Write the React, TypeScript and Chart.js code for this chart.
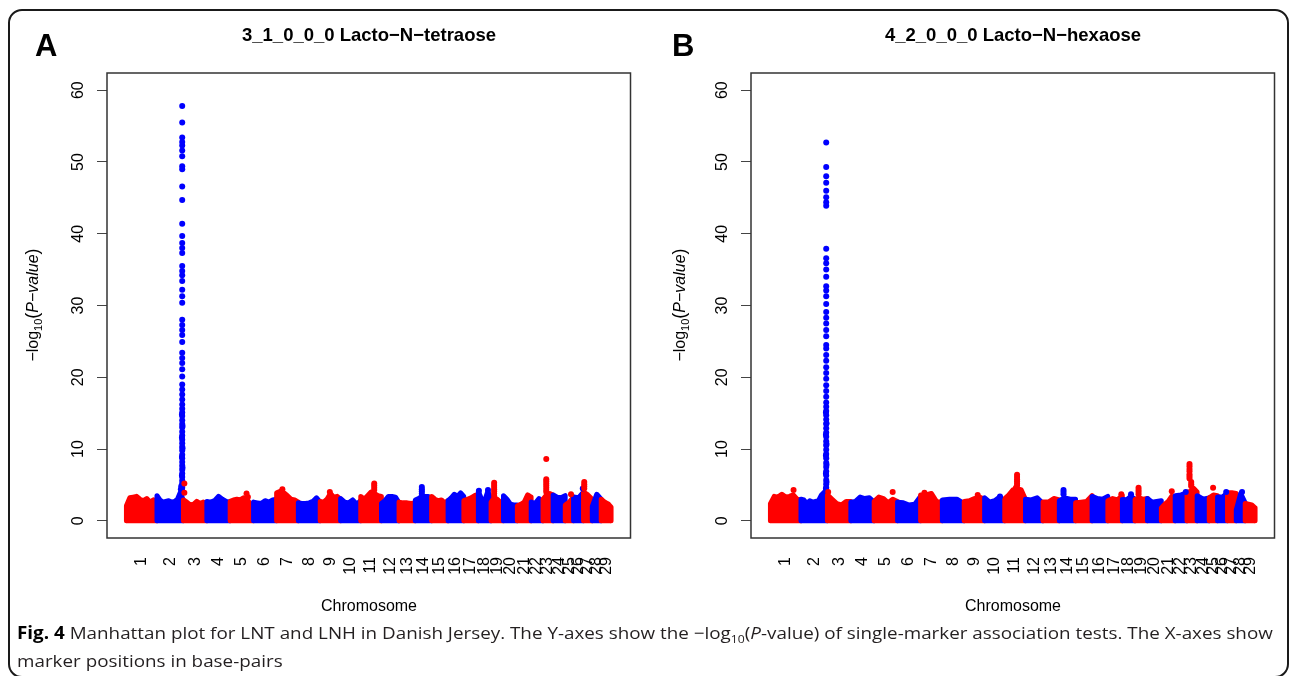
import React, { useEffect, useRef, useLayoutEffect } from 'react';
import { Chart, registerables } from 'chart.js';
Chart.register(...registerables);

// ---------------- data ----------------
const CHROMS = ['1','2','3','4','5','6','7','8','9','10','11','12','13','14','15','16','17','18','19','20','21','22','23','24','25','26','27','28','29'];
// chromosome lengths (Mb), bovine genome
const CHROM_LEN_MB = [158.3,137.1,121.4,120.8,121.2,119.5,112.6,113.4,105.7,104.3,107.3,91.2,84.2,84.6,85.3,81.7,75.2,66.0,64.1,72.0,71.6,61.4,52.5,62.7,42.9,51.7,45.4,46.3,51.5];
const Y_TICKS = [0,10,20,30,40,50,60];
const Y_LIMITS = [0, 60];

// envelope of the dense marker cloud per chromosome (-log10 P), read left to right
const PROFILE_A: number[][] = [
  [2.1,3.2,3.3,3.4,3.0,2.8,3.1,2.6,2.9,2.3],
  [3.5,2.9,2.6,2.7,2.8,2.6,2.7,3.0,4.0,2.8],
  [2.9,2.6,2.2,2.3,2.7,2.4,2.6,2.5],
  [2.7,2.6,2.8,3.4,3.0,2.7,2.6],
  [2.7,2.9,3.0,2.9,3.2,3.0,2.4,1.9],
  [2.6,2.5,2.4,2.8,2.6,2.9,3.0],
  [3.9,4.1,3.9,3.5,3.0,2.9,2.6],
  [2.5,2.4,2.4,2.5,2.7,3.2,2.6],
  [2.7,2.6,3.0,3.8,3.3,3.4,3.0],
  [3.1,2.6,2.5,2.9,2.3,2.8],
  [3.4,3.0,3.5,4.0,3.8,3.5,3.4],
  [2.4,2.8,3.4,3.4,3.3,2.5],
  [2.6,2.5,2.5,2.4,2.5],
  [2.9,3.1,3.4,3.4,3.4,3.0],
  [3.4,3.0,2.8,2.9,2.5,2.8],
  [2.8,3.2,3.7,3.4,3.9,3.4],
  [2.8,3.0,3.2,3.5,3.7],
  [4.1,3.0,2.8,4.1,3.0],
  [2.6,3.2,3.0,2.6,2.5],
  [3.5,3.0,2.3,2.2,2.2],
  [2.1,2.3,2.6,3.6,3.3],
  [2.6,2.4,3.1,2.6],
  [3.0,3.6,3.8,3.6],
  [3.6,3.3,3.2,3.5],
  [2.2,2.6,3.3],
  [3.3,3.2,4.0],
  [4.0,3.6,3.0],
  [2.0,3.7,3.0],
  [3.0,2.7,2.5,2.3,1.9],
];

// individual markers standing out: [chromosome, position (Mb), -log10 P]
const PEAKS_A: [number, number, number][] = [
  [2,131,57.8],[2,131,55.5],[2,131,53.4],[2,131,52.8],[2,131,52.3],[2,131,51.6],[2,131,50.8],[2,131,49.4],[2,131,49.0],
  [2,131,46.6],[2,131,44.7],[2,131,41.4],[2,131,39.7],[2,131,38.7],[2,131,38.0],[2,131,37.3],[2,131,35.5],[2,131,34.8],
  [2,131,34.2],[2,131,33.4],[2,131,32.2],[2,131,31.3],[2,131,30.4],[2,131,28.0],[2,131,27.3],[2,131,26.6],[2,131,25.9],
  [2,131,24.9],[2,131,23.4],[2,131,22.7],[2,131,22.0],[2,131,21.1],[2,131,20.1],[2,131,19.0],[2,131,18.3],[2,131,17.6],
  [2,131,16.9],[2,131,16.2],[2,131,15.6],[2,131,15.1],[2,131,14.6],[2,131,14.0],[2,131,13.5],[2,131,13.0],[2,131,12.4],
  [2,131,11.9],[2,131,11.3],[2,131,10.8],[2,131,10.3],[2,131,9.8],[2,131,9.2],[2,131,8.7],[2,131,8.2],[2,131,7.7],
  [2,131,7.1],[2,131,6.6],[2,131,6.1],[2,131,5.6],[2,131,5.1],[2,131,4.6],[2,131,4.1],
  [2,129.5,14.8],[2,132.5,13.2],[2,129.5,11.6],[2,132.5,10.1],[2,129.5,8.9],[2,132.5,7.4],[2,129.5,6.3],[2,132.5,5.3],[2,129.5,4.4],
  [2,126,4.8],[2,124,4.4],
  [3,5,5.2],[3,5,3.9],
  [5,85,3.8],[5,92,3.3],
  [7,30,4.4],
  [9,50,4.0],
  [11,70,5.2],[11,70,4.9],[11,70,4.6],[11,70,4.3],
  [14,34,4.7],[14,34,4.4],[14,34,4.1],[14,34,3.8],
  [18,3,4.2],[18,50,4.3],
  [19,16,5.3],[19,16,5.0],[19,16,4.7],[19,16,4.4],[19,16,4.1],[19,16,3.8],[19,16,3.5],
  [23,17,8.6],[23,17,5.8],[23,17,5.5],[23,17,5.2],[23,17,4.9],[23,17,4.6],[23,17,4.3],[23,17,4.0],
  [25,30,3.7],
  [26,48,4.5],
  [27,4,5.4],[27,4,5.1],[27,4,4.8],[27,4,4.5],
];

const PROFILE_B: number[][] = [
  [2.4,3.4,3.3,3.7,3.3,3.4,3.6,3.0,2.9],
  [3.0,2.9,2.4,2.8,2.6,2.7,2.8,3.6,4.0,3.0],
  [3.6,3.0,2.4,2.2,2.7,2.7],
  [2.6,2.7,3.3,3.1,3.2,2.6],
  [2.7,3.3,3.1,2.5,3.0,2.7],
  [2.6,2.5,2.2,2.3,3.4],
  [3.6,3.6,3.8,2.6,2.7],
  [2.9,3.0,3.0,2.4],
  [2.7,2.8,3.1,3.3,3.0],
  [3.2,2.6,2.8,3.3,2.7],
  [3.1,3.6,4.3,4.5,4.3,3.0],
  [3.0,2.9,3.2,2.4],
  [2.6,2.6,3.1,2.9],
  [2.8,3.2,3.0,3.0],
  [2.5,2.6,2.7,3.5],
  [3.4,3.1,3.0,3.4],
  [2.8,3.1,2.9,3.5],
  [3.0,2.9,3.4,3.0],
  [3.0,3.2,3.0,3.1],
  [3.1,2.6,2.7,2.8],
  [1.8,2.3,2.7,3.4,3.3],
  [3.5,3.6,3.9],
  [4.0,4.1,4.5,4.0],
  [3.5,3.0,3.2],
  [3.2,3.6,3.5],
  [3.3,3.3,3.9],
  [3.9,3.9,3.8],
  [1.5,3.8,2.5],
  [2.4,2.3,2.2,1.8],
];

const PEAKS_B: [number, number, number][] = [
  [2,131,52.7],[2,131,49.3],[2,131,48.0],[2,131,47.1],[2,131,46.0],[2,131,45.1],[2,131,44.4],[2,131,43.9],
  [2,131,37.9],[2,131,36.6],[2,131,35.9],[2,131,35.0],[2,131,34.0],[2,131,32.7],[2,131,32.1],[2,131,31.3],
  [2,131,30.2],[2,131,29.1],[2,131,28.3],[2,131,27.5],[2,131,26.6],[2,131,25.7],[2,131,24.5],[2,131,24.0],
  [2,131,23.1],[2,131,22.3],[2,131,21.4],[2,131,20.6],[2,131,19.8],[2,131,18.9],[2,131,18.1],[2,131,17.3],
  [2,131,16.5],[2,131,15.9],[2,131,15.3],[2,131,14.7],[2,131,14.1],[2,131,13.5],[2,131,12.9],[2,131,12.3],
  [2,131,11.7],[2,131,11.1],[2,131,10.5],[2,131,9.9],[2,131,9.3],[2,131,8.7],[2,131,8.1],[2,131,7.5],
  [2,131,6.9],[2,131,6.3],[2,131,5.7],[2,131,5.1],[2,131,4.6],[2,131,4.2],
  [2,129.5,15.1],[2,132.5,13.6],[2,129.5,12.0],[2,132.5,10.7],[2,129.5,9.1],[2,132.5,7.8],[2,129.5,6.6],[2,132.5,5.4],[2,129.5,4.5],
  [1,120,4.3],
  [3,4,4.0],
  [5,96,4.0],
  [7,20,3.9],
  [9,70,3.6],
  [10,80,3.4],
  [11,64,6.4],[11,64,6.1],[11,64,5.8],[11,64,5.5],[11,64,5.2],[11,64,4.9],[11,58,4.6],
  [14,22,4.3],[14,22,4.0],[14,22,3.7],
  [17,70,3.7],
  [18,45,3.7],
  [19,18,4.6],[19,18,4.3],[19,18,4.0],[19,18,3.7],
  [21,54,4.1],
  [22,55,4.0],
  [23,13,7.9],[23,13,7.6],[23,13,7.2],[23,13,6.9],[23,13,6.5],[23,13,6.2],[23,13,5.9],[23,22,5.4],[23,22,5.1],[23,22,4.8],
  [25,20,4.6],
  [26,45,4.0],
  [28,30,4.0],
];

// ---------------- styling ----------------
const RED = '#ff0000';
const BLUE = '#0000ff';
const FONT = '"Liberation Sans", Arial, Helvetica, sans-serif';
const CANVAS_W = 645;
const CANVAS_H = 620;

function chromColor(i: number) { return i % 2 === 0 ? RED : BLUE; }

function offsets(): number[] {
  const out: number[] = [];
  let acc = 0;
  for (const l of CHROM_LEN_MB) { out.push(acc); acc += l; }
  return out;
}

function buildConfig(profile: number[][], peaks: [number, number, number][]): any {
  const off = offsets();
  const total = CHROM_LEN_MB.reduce((a, b) => a + b, 0);
  const datasets: any[] = profile.map((hs, i) => {
    const start = off[i] + 0.3;
    const end = off[i] + CHROM_LEN_MB[i] - 0.3;
    const n = hs.length;
    const pts = [{ x: start, y: 0 }, ...hs.map((h, k) => ({ x: start + (end - start) * k / (n - 1), y: h })), { x: end, y: 0 }];
    const c = chromColor(i);
    return {
      type: 'line', label: 'chr' + CHROMS[i], data: pts,
      borderColor: c, backgroundColor: c, borderWidth: 5,
      borderJoinStyle: 'round', borderCapStyle: 'round',
      fill: { value: -0.35 }, pointRadius: 0, tension: 0, order: 100 - i,
    };
  });
  datasets.push({
    type: 'line', label: 'peaks', showLine: false,
    data: peaks.map(([c, p, v]) => ({ x: off[c - 1] + p, y: v })),
    pointRadius: 3, pointBorderWidth: 0,
    pointBackgroundColor: peaks.map(([c]) => chromColor(c - 1)),
    order: 0,
  });
  const span = Y_LIMITS[1] - Y_LIMITS[0];
  return {
    type: 'line',
    data: { datasets },
    options: {
      animation: false, responsive: false, events: [],
      layout: { padding: { top: 73, right: 14, left: 0, bottom: 0 } },
      plugins: { legend: { display: false }, tooltip: { enabled: false }, title: { display: false } },
      scales: {
        x: {
          type: 'linear', min: -0.04 * total, max: total * 1.04,
          afterFit: (s: any) => { s.height = CANVAS_H - 538; },
          afterBuildTicks: (s: any) => { s.ticks = off.map((o, i) => ({ value: o + CHROM_LEN_MB[i] / 2 })); },
          grid: { display: false, drawTicks: false },
          border: { display: false },
          ticks: {
            autoSkip: false, minRotation: 90, maxRotation: 90, padding: 19,
            color: '#000', font: { family: FONT, size: 16 },
            callback: (_v: any, i: number) => CHROMS[i],
          },
        },
        y: {
          type: 'linear', min: Y_LIMITS[0] - 0.04 * span, max: Y_LIMITS[1] + 0.04 * span,
          afterFit: (s: any) => { s.width = 107; },
          afterBuildTicks: (s: any) => { s.ticks = Y_TICKS.map(v => ({ value: v })); },
          grid: { drawOnChartArea: false, drawTicks: true, tickLength: 10, color: '#444', lineWidth: 1 },
          border: { display: false },
          ticks: {
            minRotation: 90, maxRotation: 90, crossAlign: 'center', padding: 10,
            color: '#000', font: { family: FONT, size: 16 },
            callback: (v: any) => String(v),
          },
        },
      },
    },
    plugins: [{
      id: 'box',
      afterDraw(chart: any) {
        const { ctx, chartArea: a } = chart;
        ctx.save();
        ctx.strokeStyle = '#333';
        ctx.lineWidth = 1.5;
        ctx.strokeRect(a.left, a.top, a.right - a.left, a.bottom - a.top);
        ctx.restore();
      },
    }],
  };
}

function Panel({ profile, peaks, left }: { profile: number[][]; peaks: [number, number, number][]; left: number }) {
  const ref = useRef<HTMLCanvasElement | null>(null);
  useEffect(() => {
    if (!ref.current) return;
    const chart = new Chart(ref.current, buildConfig(profile, peaks));
    return () => chart.destroy();
  }, []);
  return (
    <canvas ref={ref} width={CANVAS_W} height={CANVAS_H}
      style={{ position: 'absolute', left, top: 0, width: CANVAS_W, height: CANVAS_H }} />
  );
}

const txt: React.CSSProperties = { position: 'absolute', fontFamily: FONT, color: '#000', whiteSpace: 'nowrap', lineHeight: 1 };

function YTitle({ x }: { x: number }) {
  return (
    <div style={{ ...txt, left: x, top: 305, fontSize: 16, transform: 'translate(-50%,-50%) rotate(-90deg)' }}>
      −log<span style={{ fontSize: 11, verticalAlign: -4 }}>10</span><span style={{ fontSize: 18 }}>(</span><i>P−value</i><span style={{ fontSize: 18 }}>)</span>
    </div>
  );
}

export default function App() {
  const capRef = useRef<HTMLDivElement | null>(null);
  const line1Ref = useRef<HTMLSpanElement | null>(null);
  useLayoutEffect(() => {
    if (capRef.current && line1Ref.current) {
      const w = line1Ref.current.offsetWidth;
      if (w > 0) capRef.current.style.transform = `scaleX(${1256 / w})`;
    }
  }, []);
  return (
    <div style={{ position: 'absolute', left: 0, top: 0, width: 1290, height: 676, overflow: 'hidden', background: '#fff' }}>
      <div style={{ position: 'absolute', left: 8, top: 9, width: 1281, height: 669, boxSizing: 'border-box', border: '2px solid #1a1a1a', borderRadius: 14 }} />
      <Panel profile={PROFILE_A} peaks={PEAKS_A} left={0} />
      <Panel profile={PROFILE_B} peaks={PEAKS_B} left={644} />
      <div style={{ ...txt, left: 35, top: 30, fontSize: 31, fontWeight: 'bold' }}>A</div>
      <div style={{ ...txt, left: 672, top: 30, fontSize: 31, fontWeight: 'bold' }}>B</div>
      <div style={{ ...txt, left: 369, top: 35, fontSize: 18.5, fontWeight: 'bold', transform: 'translate(-50%,-50%)' }}>3_1_0_0_0 Lacto−N−tetraose</div>
      <div style={{ ...txt, left: 1013, top: 35, fontSize: 18.5, fontWeight: 'bold', transform: 'translate(-50%,-50%)' }}>4_2_0_0_0 Lacto−N−hexaose</div>
      <YTitle x={33} />
      <YTitle x={680} />
      <div style={{ ...txt, left: 369, top: 606, fontSize: 16, transform: 'translate(-50%,-50%)' }}>Chromosome</div>
      <div style={{ ...txt, left: 1013, top: 606, fontSize: 16, transform: 'translate(-50%,-50%)' }}>Chromosome</div>
      <div ref={capRef} style={{ position: 'absolute', left: 17, top: 619, transformOrigin: '0 0', fontFamily: '"Open Sans", "Noto Sans", sans-serif', fontSize: 17, color: '#231f20', whiteSpace: 'nowrap', lineHeight: '28px' }}>
        <span ref={line1Ref}><b style={{ color: '#000' }}>Fig. 4</b> Manhattan plot for LNT and LNH in Danish Jersey. The Y-axes show the −log<sub style={{ fontSize: 11, lineHeight: 0 }}>10</sub>(<i>P</i>-value) of single-marker association tests. The X-axes show</span>
        <br />
        <span>marker positions in base-pairs</span>
      </div>
    </div>
  );
}
